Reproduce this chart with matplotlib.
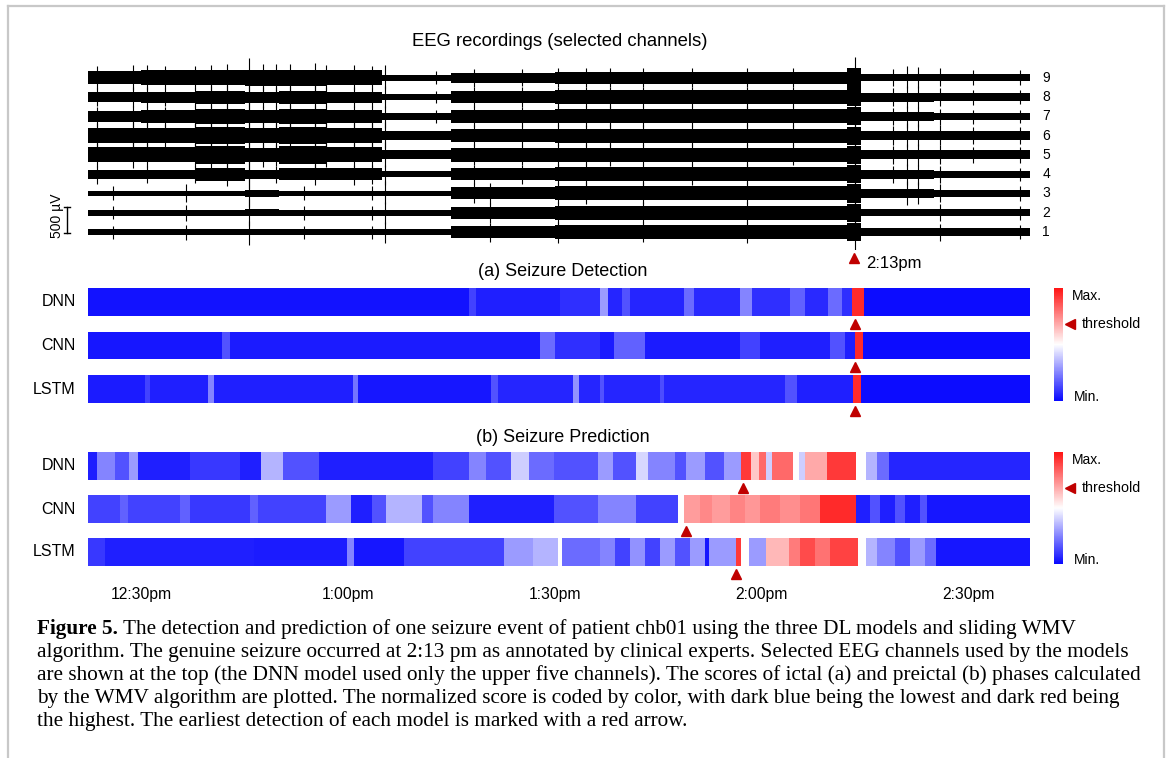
import numpy as np
import matplotlib
matplotlib.use('Agg')
import matplotlib.pyplot as plt
import matplotlib.transforms as mtransforms
from matplotlib.colors import LinearSegmentedColormap, Normalize
from matplotlib.cm import ScalarMappable
from matplotlib.lines import Line2D

# time axis in minutes after 12:00
T0, T1 = 22.25, 159.0
tick_times = [30, 60, 90, 120, 150]
tick_labels = ['12:30pm', '1:00pm', '1:30pm', '2:00pm', '2:30pm']
seizure_time = 133.0
threshold = 0.68

models = ['DNN', 'CNN', 'LSTM']

# (a) seizure detection scores: segment edges (min) and normalized scores
det_dnn_edges = [22.25, 77.55, 78.55, 90.75, 96.55, 97.7, 99.75, 100.9, 108.75, 110.2, 116.9,
                 118.6, 124.15, 126.3, 129.65, 131.7, 133.15, 134.9, 159.0]
det_dnn_vals = [0.02, 0.12, 0.05, 0.08, 0.3, 0.06, 0.15, 0.06, 0.2, 0.07, 0.25, 0.08, 0.18,
                0.07, 0.2, 0.08, 0.95, 0.01]
det_cnn_edges = [22.25, 41.7, 42.85, 87.85, 90.05, 96.55, 98.6, 103.1, 116.9, 119.8, 129.95,
                 132.1, 133.55, 134.75, 159.0]
det_cnn_vals = [0.03, 0.15, 0.04, 0.2, 0.08, 0.04, 0.18, 0.04, 0.12, 0.05, 0.15, 0.05, 0.95, 0.01]
det_lstm_edges = [22.25, 30.5, 31.25, 39.65, 40.55, 60.7, 61.45, 80.75, 81.75, 92.65, 93.5, 96.55,
                  97.15, 105.25, 105.85, 123.4, 125.15, 133.3, 134.45, 159.0]
det_lstm_vals = [0.04, 0.12, 0.05, 0.25, 0.05, 0.22, 0.03, 0.15, 0.06, 0.28, 0.06, 0.15, 0.06,
                 0.14, 0.06, 0.15, 0.05, 0.95, 0.01]
det_marks = [133.6, 133.6, 133.6]

# (b) seizure prediction scores
pred_dnn_edges = [22.25, 23.56, 26.17, 28.2, 29.5, 37.05, 44.3, 47.36, 50.55, 55.8, 72.3, 77.55,
                  80.0, 83.6, 86.25, 89.9, 96.3, 98.45, 101.8, 103.5, 107.45, 109.0, 111.8, 114.55,
                  117.0, 118.5, 119.65, 120.65, 121.5, 124.55, 125.45, 126.3, 129.5, 133.7, 135.15,
                  136.75, 138.5, 159.0]
pred_dnn_vals = [0.05, 0.25, 0.15, 0.3, 0.05, 0.1, 0.05, 0.35, 0.15, 0.05, 0.12, 0.25, 0.15, 0.4,
                 0.2, 0.15, 0.3, 0.15, 0.42, 0.25, 0.15, 0.3, 0.15, 0.3, 0.92, 0.62, 0.82, 0.4,
                 0.82, 0.5, 0.4, 0.68, 0.92, 0.5, 0.35, 0.2, 0.06]
pred_cnn_edges = [22.25, 26.9, 28.05, 35.6, 37.05, 45.75, 46.9, 56.8, 60.4, 63.5, 65.5, 70.7,
                  72.3, 77.55, 89.9, 96.3, 101.8, 107.9, 108.75, 111.1, 112.8, 115.4, 117.6, 119.8,
                  122.7, 125.6, 128.5, 133.7, 135.75, 137.2, 139.4, 140.8, 143.0, 144.0, 159.0]
pred_cnn_vals = [0.12, 0.18, 0.12, 0.18, 0.1, 0.18, 0.12, 0.3, 0.05, 0.15, 0.35, 0.15, 0.25,
                 0.05, 0.15, 0.25, 0.12, 0.5, 0.71, 0.75, 0.71, 0.76, 0.72, 0.78, 0.74, 0.79, 0.95,
                 0.05, 0.15, 0.05, 0.15, 0.05, 0.15, 0.03]
pred_lstm_edges = [22.25, 24.7, 46.35, 59.85, 60.85, 68.1, 82.6, 86.85, 90.45, 91.05, 96.55,
                   98.75, 100.9, 103.1, 105.25, 107.45, 109.6, 111.8, 112.4, 116.3, 117.0, 118.2,
                   120.65, 124.0, 125.6, 127.75, 129.95, 134.0, 135.15, 136.75, 139.4, 141.55,
                   143.75, 145.3, 159.0]
pred_lstm_vals = [0.1, 0.05, 0.04, 0.25, 0.03, 0.12, 0.3, 0.35, 0.5, 0.2, 0.25, 0.12, 0.28, 0.12,
                  0.3, 0.15, 0.3, 0.03, 0.3, 0.92, 0.5, 0.3, 0.65, 0.78, 0.88, 0.8, 0.9, 0.5,
                  0.35, 0.25, 0.15, 0.3, 0.2, 0.03]
pred_marks = [117.3, 109.0, 116.3]

# EEG envelope (half amplitude, uV) per channel over time segments
eeg_edges = [22.25, 30, 38, 45, 50, 57, 65, 75, 90, 110, 132.5, 134.5, 145, 159]
eeg_ch1 = [55, 55, 55, 55, 55, 55, 55, 115, 135, 135, 175, 70, 70]
eeg_ch2 = [55, 55, 55, 70, 55, 55, 55, 115, 135, 135, 175, 70, 70]
eeg_ch3 = [55, 55, 55, 70, 55, 55, 55, 115, 135, 135, 175, 85, 70]
eeg_ch4 = [90, 90, 125, 90, 110, 110, 55, 120, 135, 135, 175, 85, 70]
eeg_ch5 = [145, 145, 165, 130, 165, 145, 85, 130, 135, 135, 175, 85, 85]
eeg_ch6 = [145, 145, 165, 145, 165, 145, 85, 130, 135, 135, 175, 85, 85]
eeg_ch7 = [105, 125, 140, 125, 140, 125, 70, 130, 135, 135, 175, 85, 70]
eeg_ch8 = [90, 105, 125, 105, 125, 105, 55, 120, 130, 130, 175, 85, 70]
eeg_ch9 = [125, 145, 145, 160, 160, 145, 55, 95, 110, 110, 190, 70, 70]
# large transients: time (min), extra excursion (uV), lowest and highest channel showing it
eeg_spike_times = [23.6, 25.9, 28.8, 30.8, 33.4, 36.5, 37.8, 40.1, 42.4, 45.6, 47.6, 49.5,
                   51.6, 53.6, 55.2, 56.8, 60.9, 63.5, 65.4, 72.8, 78.3, 80.6, 85.2, 90.5,
                   94.5, 98.0, 102.8, 110.0, 117.9, 124.6, 133.6, 139.1, 141.1, 142.7, 145.9,
                   150.7, 157.5]
eeg_spike_amps = [150, 120, 180, 140, 120, 170, 130, 150, 180, 320, 160, 140,
                  150, 130, 170, 120, 150, 130, 260, 110, 120, 130, 110, 120,
                  110, 120, 110, 110, 120, 110, 300, 150, 220, 200, 160,
                  120, 110]
eeg_spike_lo = [4, 1, 5, 4, 6, 1, 4, 5, 4, 1, 5, 4, 6, 1, 4, 5, 4, 1, 1, 7, 3, 1, 4, 1,
                3, 5, 1, 4, 1, 5, 1, 4, 3, 3, 1, 5, 1]
eeg_spike_hi = [9, 3, 9, 9, 9, 3, 9, 9, 9, 9, 9, 9, 9, 3, 9, 9, 9, 9, 9, 9, 9, 3, 9, 9,
                9, 9, 9, 9, 9, 9, 9, 9, 9, 9, 9, 9, 9]

W, H = 1171, 758
SPACING = 370  # uV between channel baselines


def rect(x0, y0, x1, y1):
    return [x0 / W, 1 - y1 / H, (x1 - x0) / W, (y1 - y0) / H]


def fx(x):
    return x / W


def fy(y):
    return 1 - y / H


cmap = LinearSegmentedColormap.from_list('score', [(0, '#0808ff'), (0.5, '#ffffff'), (1, '#ff1414')])
mark_col = '#c00000'
sans = 'Liberation Sans'

fig = plt.figure(figsize=(W / 100, H / 100), dpi=100)
fig.patch.set_facecolor('white')

# frame
for xs, ys in [([8, 1164], [6, 6]), ([8, 8], [6, 758]), ([1164, 1164], [6, 758])]:
    fig.add_artist(Line2D([fx(v) for v in xs], [fy(v) for v in ys], color='#c8c8c8', lw=1.6))

# EEG panel
ax = fig.add_axes(rect(88, 50, 1030, 250))
ax.set_xlim(T0, T1)
ax.set_ylim(-18 * 19.2, 182 * 19.2)
ax.axis('off')
channels = [eeg_ch1, eeg_ch2, eeg_ch3, eeg_ch4, eeg_ch5, eeg_ch6, eeg_ch7, eeg_ch8, eeg_ch9]
blend = mtransforms.blended_transform_factory(ax.transAxes, ax.transData)
spk_t = np.array(eeg_spike_times)
spk_a = np.array(eeg_spike_amps)
spk_lo = np.array(eeg_spike_lo)
spk_hi = np.array(eeg_spike_hi)
for k, amps in enumerate(channels):
    ch = k + 1
    off = k * SPACING
    a = np.array(amps + [amps[-1]], dtype=float)
    ax.fill_between(eeg_edges, off - a, off + a, step='post', color='black', lw=0)
    sel = (spk_lo <= ch) & (spk_hi >= ch)
    idx = np.searchsorted(eeg_edges, spk_t[sel]) - 1
    base = np.array(amps)[idx]
    ax.vlines(spk_t[sel], off - base - 0.6 * spk_a[sel],
              off + base + spk_a[sel] * (0.5 + 0.1 * (k % 3)), color='black', lw=0.8)
    ax.text(1.013, off, str(ch), transform=blend, va='center', ha='left',
            fontsize=10, family=sans)
# scale bar 500 uV
xb = (67 - 88) / 942
ax.plot([xb, xb], [-20, 480], transform=blend, color='black', lw=1, clip_on=False)
for yb in [-20, 480]:
    ax.plot([xb - 0.003, xb + 0.003], [yb, yb], transform=blend, color='black', lw=1, clip_on=False)
fig.text(fx(57), fy(216), '500 µV', rotation=90, ha='center', va='center', fontsize=10, family=sans)
ax.plot([seizure_time + 0.4], [-26 * 19.2], marker='^', color=mark_col, ms=7, clip_on=False)
fig.text(fx(866), fy(263), '2:13pm', ha='left', va='center', fontsize=12, family=sans)
fig.text(fx(560), fy(42), 'EEG recordings (selected channels)', ha='center', va='center',
         fontsize=13.3, family=sans)

# score bars
panels = [
    ('(a) Seizure Detection', 272, [288, 331.5, 375],
     [(det_dnn_edges, det_dnn_vals), (det_cnn_edges, det_cnn_vals), (det_lstm_edges, det_lstm_vals)],
     det_marks),
    ('(b) Seizure Prediction', 437, [452, 495, 538],
     [(pred_dnn_edges, pred_dnn_vals), (pred_cnn_edges, pred_cnn_vals), (pred_lstm_edges, pred_lstm_vals)],
     pred_marks),
]
last_ax = None
for title, ty, tops, data, marks in panels:
    fig.text(fx(563), fy(ty), title, ha='center', va='center', fontsize=13, family=sans)
    for name, top, (edges, vals), m in zip(models, tops, data, marks):
        bax = fig.add_axes(rect(88, top, 1030, top + 28))
        bax.pcolormesh(edges, [0, 1], np.array([vals]), cmap=cmap, vmin=0, vmax=1)
        bax.set_xlim(T0, T1)
        bax.set_ylim(0, 1)
        for s in bax.spines.values():
            s.set_visible(False)
        bax.set_xticks([])
        bax.set_yticks([])
        bax.plot([m], [-0.27], marker='^', color=mark_col, ms=7, clip_on=False)
        fig.text(fx(76), fy(top + 14), name, ha='right', va='center', fontsize=11.5, family=sans)
        last_ax = bax
    cax = fig.add_axes(rect(1054, tops[0], 1063, tops[-1] + 26))
    cb = fig.colorbar(ScalarMappable(Normalize(0, 1), cmap), cax=cax)
    cb.outline.set_visible(False)
    cb.set_ticks([])
    y_top, y_bot = tops[0], tops[-1] + 26
    fig.text(fx(1072), fy(y_top + 8), 'Max.', ha='left', va='center', fontsize=10, family=sans)
    fig.text(fx(1074), fy(y_bot - 4), 'Min.', ha='left', va='center', fontsize=10, family=sans)
    yt = y_bot - threshold * (y_bot - y_top)
    fig.add_artist(Line2D([fx(1070)], [fy(yt)], marker='<', color=mark_col, ms=7))
    fig.text(fx(1082), fy(yt), 'threshold', ha='left', va='center', fontsize=10.3, family=sans)

last_ax.set_xticks(tick_times)
last_ax.set_xticklabels(tick_labels, family=sans, fontsize=11.3)
last_ax.tick_params(axis='x', length=0, pad=15)

# caption
cap_lines = [
    'The detection and prediction of one seizure event of patient chb01 using the three DL models and sliding WMV',
    'algorithm. The genuine seizure occurred at 2:13 pm as annotated by clinical experts. Selected EEG channels used by the models',
    'are shown at the top (the DNN model used only the upper five channels). The scores of ictal (a) and preictal (b) phases calculated',
    'by the WMV algorithm are plotted. The normalized score is coded by color, with dark blue being the lowest and dark red being',
    'the highest. The earliest detection of each model is marked with a red arrow.',
]
serif = 'Liberation Serif'
cap_fs = 15.3
bold = fig.text(fx(37), fy(629), 'Figure 5.', ha='left', va='center', fontsize=cap_fs,
                family=serif, weight='bold')
fig.canvas.draw()
bb = bold.get_window_extent(fig.canvas.get_renderer())
fig.text(bb.x1 / W + 5 / W, fy(629), cap_lines[0], ha='left', va='center', fontsize=cap_fs, family=serif)
for i, line in enumerate(cap_lines[1:]):
    fig.text(fx(37), fy(652 + 23 * i), line, ha='left', va='center', fontsize=cap_fs, family=serif)

fig.savefig('out.png', dpi=100)
